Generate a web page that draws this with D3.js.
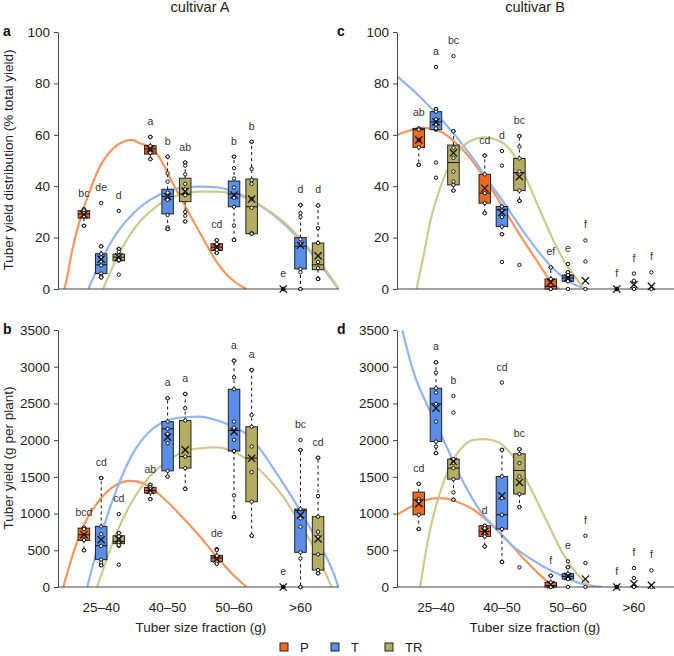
<!DOCTYPE html>
<html>
<head>
<meta charset="utf-8">
<script src="https://cdn.jsdelivr.net/npm/d3@7"></script>
<style>
  body { margin: 0; background: #fff; }
  svg { font-family: "Liberation Sans", Arial, Helvetica, sans-serif; }
</style>
</head>
<body>
<div id="chart"></div>
<script>
// categories and treatments
const categories = ['25–40', '40–50', '50–60', '>60'];
const treatments = ['P', 'T', 'TR'];
const pctTicks = [0, 20, 40, 60, 80, 100];
const gTicks = [0, 500, 1000, 1500, 2000, 2500, 3000, 3500];

// box stats per group (order P,T,TR for each size class): [lo, q1, median, q3, hi, mean]
const statsA = [
    [24.6, 27.6, 29.2, 30.5, 31, 29], [4.5, 6, 9.4, 13.7, 16.6, 11.6], [11, 11, 12.4, 13.6, 15.6, 12.5],
    [50.5, 52.5, 54.5, 55.8, 59.2, 54.5], [23.3, 29.2, 36, 38.8, 51.5, 36], [26.3, 34, 36.9, 43.1, 49.2, 38],
    [14, 15, 16.3, 17.6, 19, 16.3], [19.1, 32, 37, 42, 51.5, 36.6], [21.5, 21.5, 32, 42.8, 57.3, 35],
    [null, null, null, null, null, 0], [0, 7.8, 16.6, 20, 32.7, 17], [3.9, 7.5, 9.4, 17.9, 32.5, 12.9]
];
const ptsA = [
    [31, 30.5, 29.5, 28.3, 24.6], [33.4, 16.6, 13.7, 12.3, 10.7, 9.2, 6, 5, 4.5], [30.4, 15.6, 14.5, 13, 12, 11.3, 5.6],
    [59.2, 55.6, 54.5, 53, 50.5], [51.5, 45, 41.8, 37.5, 36, 34.7, 28.8, 24, 23.3], [49.2, 48, 44.6, 40.9, 38.8, 36.5, 30, 28.5, 26.3],
    [19, 17.5, 16, 15.2, 14], [51.5, 47, 43, 39.5, 35.5, 32, 24.7, 19.1], [57.3, 46.7, 42.4, 40.9, 35, 31.6, 21.7, 21.5],
    [0], [32.7, 29.5, 28, 19.4, 17.5, 7.8, 6.5, 0], [32.5, 23.7, 17.9, 10.5, 8.1, 4, 3.9]
];
const lettersA = ['bc', 'de', 'd', 'a', 'b', 'ab', 'cd', 'b', 'b', 'e', 'd', 'd'];

const statsB = [
    [499, 635, 712, 802, 802, 712], [295, 372, 562, 825, 1483, 644], [560, 590, 621, 698, 735, 650],
    [1197, 1279, 1315, 1356, 1392, 1315], [1505, 1582, 2154, 2253, 2571, 2040], [1337, 1619, 1777, 2267, 2630, 1868],
    [317, 349, 394, 431, 517, 381], [952, 1852, 2131, 2693, 3083, 2116], [699, 1162, 1755, 2183, 2956, 1753],
    [null, null, null, null, null, 0], [0, 472, 1040, 1062, 1866, 980], [186, 231, 445, 958, 1761, 654]
];
const ptsB = [
    [810, 790, 700, 640, 499], [1483, 825, 720, 560, 372, 330, 295], [993, 735, 690, 640, 600, 570, 304],
    [1392, 1360, 1330, 1290, 1197], [2571, 2253, 2154, 2086, 1959, 1582, 1505], [2630, 2435, 2267, 1777, 1619, 1337],
    [504, 426, 380, 345, 317], [3083, 2856, 2693, 2253, 2170, 2004, 1852, 1247, 952], [2956, 2343, 2183, 1913, 1564, 1162, 699],
    [0], [2002, 1866, 1062, 935, 821, 472, 390, 0], [1761, 1239, 958, 753, 685, 445, 231, 186]
];
const lettersB = ['bcd', 'cd', 'cd', 'ab', 'a', 'a', 'de', 'a', 'a', 'e', 'bc', 'cd'];

const statsC = [
    [48.3, 55.1, 62, 62.5, 62.5, 58], [62, 62, 65, 69, 70, 65], [38.3, 40.5, 49.2, 56, 61.4, 53],
    [29.5, 33.4, 37.3, 44.6, 51.9, 39.2], [21.3, 24.3, 30.8, 32.1, 32.1, 29.8], [34.3, 38.3, 45.3, 50.8, 59.5, 43.7],
    [0, 0, 1, 3.9, 8.4, 2.6], [3, 3, 4.3, 5.4, 6.5, 4.3], [null, null, null, null, null, 3.2],
    [null, null, null, null, null, 0], [null, null, null, null, null, 1.7], [null, null, null, null, null, 1]
];
const ptsC = [
    [62.5, 62, 58, 55.1, 48.3], [86.4, 70, 69, 66, 64, 62.5, 49.2, 43.3], [90.6, 61.4, 55, 51, 45.7, 41.8, 40.5, 38.3],
    [51.9, 44.6, 37.3, 33.4, 29.5], [53.7, 48, 32.1, 30.5, 28, 24.3, 21.3, 10.5], [59.5, 55.4, 50.8, 45.7, 38.3, 34.3, 9.4],
    [8.4, 3.9, 0], [9.7, 6.5, 5.4, 4.3, 3, 0], [18.9, 10.7, 0],
    [0], [6, 3.2, 0], [6.5, 0]
];
const lettersC = ['ab', 'a', 'bc', 'cd', 'd', 'bc', 'ef', 'e', 'f', 'f', 'f', 'f'];

const statsD = [
    [789, 984, 1188, 1292, 1406, 1134], [1823, 1981, 2494, 2707, 3060, 2435], [1188, 1469, 1619, 1741, 1741, 1709],
    [553, 689, 757, 834, 834, 757], [340, 789, 984, 1505, 1868, 1242], [1088, 1265, 1587, 1814, 1877, 1424],
    [0, 0, 20, 63, 154, 32], [109, 109, 145, 181, 268, 145], [null, null, null, null, null, 109],
    [null, null, null, null, null, 0], [null, null, null, null, null, 45], [null, null, null, null, null, 23]
];
const ptsD = [
    [1406, 1197, 1165, 984, 789], [3060, 2920, 2707, 2648, 2494, 2253, 1981, 1913, 1823], [2602, 2376, 1741, 1690, 1619, 1469, 1288, 1188],
    [834, 800, 740, 689, 553], [2784, 1868, 1505, 1210, 984, 789, 340], [1877, 1814, 1687, 1505, 1265, 1088, 268],
    [154, 63, 0], [349, 268, 181, 150, 109, 0], [698, 326, 0],
    [0], [258, 122, 0], [227, 0]
];
const lettersD = ['cd', 'a', 'b', 'd', 'cd', 'bc', 'f', 'e', 'f', 'f', 'f', 'f'];

// fitted curves as [size class position, value]
const fitAP = [[0.445, 0], [0.48, 3.6], [0.555, 14], [0.68, 26.9], [0.78, 34.7], [0.98, 47.6], [1.18, 54.7], [1.33, 57.3], [1.46, 58], [1.6, 56.5], [1.76, 55], [1.9, 50.2], [2.04, 43], [2.25, 33], [2.49, 21.7], [2.74, 10.5], [2.99, 3.2], [3.19, 0]];
const fitAT = [[0.806, 0], [0.983, 10.1], [1.234, 21.7], [1.484, 29.5], [1.735, 34.7], [1.987, 37.9], [2.237, 39.5], [2.489, 39.8], [2.74, 39.6], [2.99, 37.9], [3.24, 34.9], [3.49, 30.8], [3.74, 25.6], [3.99, 19.1], [4.246, 11.4], [4.57, 0]];
const fitATR = [[1.03, 0], [1.234, 12], [1.484, 23], [1.735, 30.1], [1.987, 34.7], [2.237, 37], [2.489, 37.9], [2.74, 37.9], [2.99, 37], [3.24, 34.7], [3.49, 31], [3.74, 26.3], [3.99, 19.8], [4.246, 12], [4.49, 3.5], [4.58, 0]];

const fitBP = [[0.43, 0], [0.58, 462], [0.73, 825], [0.98, 1188], [1.23, 1392], [1.43, 1446], [1.63, 1415], [1.88, 1256], [2.14, 1029], [2.49, 685], [2.74, 413], [2.99, 163], [3.19, 0]];
const fitBT = [[0.79, 0], [0.98, 644], [1.23, 1324], [1.48, 1823], [1.73, 2117], [1.99, 2267], [2.24, 2312], [2.49, 2320], [2.74, 2270], [2.99, 2183], [3.24, 2047], [3.49, 1753], [3.74, 1412], [3.99, 1049], [4.245, 640], [4.5, 186], [4.57, 0]];
const fitBTR = [[0.94, 0], [1.23, 734], [1.48, 1188], [1.73, 1505], [1.99, 1709], [2.24, 1845], [2.49, 1889], [2.74, 1902], [2.99, 1843], [3.24, 1707], [3.49, 1503], [3.74, 1230], [3.99, 867], [4.245, 459], [4.4, 140], [4.47, 0]];

const fitCP = [[0.41, 59.9], [0.733, 62.5], [0.81, 62.7], [1.06, 61.4], [1.31, 56.7], [1.57, 49.2], [1.82, 39.8], [2.07, 29.5], [2.32, 19.1], [2.57, 9.4], [2.72, 3.6], [2.87, 0]];
const fitCT = [[0.41, 82.8], [0.733, 75.4], [1.0, 68.3], [1.31, 59.2], [1.57, 50.5], [1.82, 41.1], [2.07, 32.1], [2.32, 22.6], [2.57, 14], [2.82, 6.9], [3.07, 2.1], [3.3, 0]];
const fitCTR = [[0.706, 0], [0.82, 14], [0.92, 26.9], [1.07, 39.8], [1.22, 48.9], [1.43, 56], [1.63, 58.6], [1.73, 59], [1.93, 58], [2.13, 54], [2.33, 45], [2.53, 33.4], [2.73, 21.7], [2.93, 11.4], [3.14, 3.6], [3.24, 0]];

const fitDP = [[0.41, 984], [0.65, 1106], [0.9, 1197], [1.06, 1210], [1.31, 1165], [1.57, 1052], [1.82, 870], [2.07, 644], [2.32, 394], [2.57, 168], [2.78, 0]];
const fitDT = [[0.41, 3790], [0.49, 3500], [0.65, 2956], [0.9, 2412], [1.16, 1913], [1.41, 1437], [1.66, 1052], [1.92, 780], [2.17, 553], [2.42, 394], [2.67, 258], [2.92, 145], [3.17, 54], [3.42, 9], [3.52, 0]];
const fitDTR = [[0.76, 0], [0.9, 734], [1.06, 1279], [1.21, 1641], [1.41, 1913], [1.57, 2004], [1.72, 2013], [1.92, 1981], [2.17, 1777], [2.42, 1369], [2.67, 916], [2.92, 462], [3.17, 145], [3.37, 0]];

// styling
const boxFill = { P: '#EE6A21', T: '#5B8EE9', TR: '#B4AD62' };
const lineColor = { P: '#F5965E', T: '#92B6F1', TR: '#CFC98F' };
const offsets = [-0.26, 0, 0.265];
const axisColor = '#444';

const svg = d3.select('#chart').append('svg')
    .attr('width', 674)
    .attr('height', 656);

const panels = [
    { id: 'a', stats: statsA, pts: ptsA, letters: lettersA, fits: [fitAP, fitAT, fitATR],
      xd: [0.35, 4.58], xr: [58, 339], yMax: 100, yr: [289, 32], ticks: pctTicks, bottom: false, lx: 3 },
    { id: 'b', stats: statsB, pts: ptsB, letters: lettersB, fits: [fitBP, fitBT, fitBTR],
      xd: [0.35, 4.58], xr: [58, 339], yMax: 3500, yr: [587, 330], ticks: gTicks, bottom: true, lx: 3 },
    { id: 'c', stats: statsC, pts: ptsC, letters: lettersC, fits: [fitCP, fitCT, fitCTR],
      xd: [0.41, 4.85], xr: [397, 690], yMax: 100, yr: [289, 32], ticks: pctTicks, bottom: false, lx: 337 },
    { id: 'd', stats: statsD, pts: ptsD, letters: lettersD, fits: [fitDP, fitDT, fitDTR],
      xd: [0.41, 4.85], xr: [397, 690], yMax: 3500, yr: [587, 330], ticks: gTicks, bottom: true, lx: 337 }
];

panels.forEach(drawPanel);

function drawPanel(p) {
    const x = d3.scaleLinear().domain(p.xd).range(p.xr);
    const y = d3.scaleLinear().domain([0, p.yMax]).range(p.yr);
    const g = svg.append('g').attr('class', 'panel-' + p.id);

    // clip for the fitted curves
    const clipId = 'clip-' + p.id;
    svg.append('clipPath').attr('id', clipId)
        .append('rect')
        .attr('x', p.xr[0])
        .attr('y', p.yr[1])
        .attr('width', p.xr[1] - p.xr[0])
        .attr('height', p.yr[0] - p.yr[1]);

    const line = d3.line()
        .x(d => x(d[0]))
        .y(d => y(d[1]))
        .curve(d3.curveMonotoneX);

    p.fits.forEach((f, i) => {
        g.append('path')
            .attr('d', line(f))
            .attr('fill', 'none')
            .attr('stroke', lineColor[treatments[i]])
            .attr('stroke-width', 2.2)
            .attr('clip-path', `url(#${clipId})`);
    });

    // y axis
    const yAxis = g.append('g')
        .attr('transform', `translate(${p.xr[0]},0)`)
        .call(d3.axisLeft(y).tickValues(p.ticks).tickFormat(d3.format('d'))
            .tickSize(4).tickSizeOuter(0).tickPadding(4));
    yAxis.select('.domain').attr('stroke', axisColor);
    yAxis.selectAll('.tick line').attr('stroke', axisColor);
    yAxis.selectAll('.tick text')
        .attr('font-size', 13.5)
        .attr('fill', '#222')
        .attr('font-family', '"Liberation Sans", Arial, sans-serif');

    // x axis baseline
    g.append('line')
        .attr('x1', p.xr[0]).attr('x2', p.xr[1])
        .attr('y1', y(0)).attr('y2', y(0))
        .attr('stroke', axisColor)
        .attr('stroke-width', 1);

    if (p.bottom) {
        g.selectAll('.xlab')
            .data(categories)
            .enter()
            .append('text')
            .attr('class', 'xlab')
            .attr('x', (d, i) => x(i + 1))
            .attr('y', 612)
            .attr('text-anchor', 'middle')
            .attr('font-size', 13.5)
            .attr('fill', '#222')
            .text(d => d);

        g.append('text')
            .attr('x', (x(1) + x(4)) / 2)
            .attr('y', 632)
            .attr('text-anchor', 'middle')
            .attr('font-size', 13.5)
            .attr('fill', '#222')
            .text('Tuber size fraction (g)');
    }

    // panel letter
    g.append('text')
        .attr('x', p.lx)
        .attr('y', p.yr[1] + 4)
        .attr('font-size', 14)
        .attr('font-weight', 'bold')
        .attr('fill', '#111')
        .text(p.id);

    const bw = 11.5;
    p.stats.forEach((s, k) => {
        const c = Math.floor(k / 3);
        const t = k % 3;
        const cx = x(c + 1 + offsets[t]);
        const [lo, q1, med, q3, hi, mean] = s;
        const pts = p.pts[k];
        const grp = g.append('g');

        if (lo !== null) {
            // whiskers
            if (hi > q3) {
                grp.append('line')
                    .attr('x1', cx).attr('x2', cx)
                    .attr('y1', y(q3)).attr('y2', y(hi))
                    .attr('stroke', '#111').attr('stroke-dasharray', '3,3');
            }
            if (lo < q1) {
                grp.append('line')
                    .attr('x1', cx).attr('x2', cx)
                    .attr('y1', y(q1)).attr('y2', y(lo))
                    .attr('stroke', '#111').attr('stroke-dasharray', '3,3');
            }
            grp.append('rect')
                .attr('x', cx - bw / 2)
                .attr('y', y(q3))
                .attr('width', bw)
                .attr('height', Math.max(1, y(q1) - y(q3)))
                .attr('fill', boxFill[treatments[t]])
                .attr('stroke', '#222')
                .attr('stroke-width', 1);
            grp.append('line')
                .attr('x1', cx - bw / 2).attr('x2', cx + bw / 2)
                .attr('y1', y(med)).attr('y2', y(med))
                .attr('stroke', '#111');
            // whisker end caps
            [lo, hi].forEach(v => {
                grp.append('line')
                    .attr('x1', cx - 2.5).attr('x2', cx + 2.5)
                    .attr('y1', y(v)).attr('y2', y(v))
                    .attr('stroke', '#111');
                grp.append('circle')
                    .attr('cx', cx).attr('cy', y(v))
                    .attr('r', 2)
                    .attr('fill', '#111');
            });
        }

        // individual observations
        grp.selectAll('.pt')
            .data(pts)
            .enter()
            .append('circle')
            .attr('class', 'pt')
            .attr('cx', cx)
            .attr('cy', d => y(d))
            .attr('r', 1.7)
            .attr('fill', '#fff')
            .attr('stroke', '#111')
            .attr('stroke-width', 1);

        if (lo === null && d3.max(pts) === 0) {
            grp.append('circle')
                .attr('cx', cx).attr('cy', y(0))
                .attr('r', 2.2)
                .attr('fill', '#111');
        }

        // mean marker
        const my = y(mean);
        const m = 3.6;
        grp.append('path')
            .attr('d', `M${cx - m},${my - m}L${cx + m},${my + m}M${cx - m},${my + m}L${cx + m},${my - m}`)
            .attr('stroke', '#111')
            .attr('stroke-width', 1.3)
            .attr('fill', 'none');

        // group letter
        const top = d3.max([hi === null ? 0 : hi, mean, d3.max(pts)]);
        grp.append('text')
            .attr('x', cx)
            .attr('y', y(top) - 12)
            .attr('text-anchor', 'middle')
            .attr('font-size', 10.5)
            .attr('fill', '#333')
            .text(p.letters[k]);
    });
}

// titles
svg.append('text')
    .attr('x', 200).attr('y', 12)
    .attr('text-anchor', 'middle')
    .attr('font-size', 14.5)
    .attr('fill', '#222')
    .text('cultivar A');
svg.append('text')
    .attr('x', 535).attr('y', 12)
    .attr('text-anchor', 'middle')
    .attr('font-size', 14.5)
    .attr('fill', '#222')
    .text('cultivar B');

// y axis titles
svg.append('text')
    .attr('transform', 'translate(13,160) rotate(-90)')
    .attr('text-anchor', 'middle')
    .attr('font-size', 13.5)
    .attr('fill', '#222')
    .text('Tuber yield distribution (% total yield)');
svg.append('text')
    .attr('transform', 'translate(13,458) rotate(-90)')
    .attr('text-anchor', 'middle')
    .attr('font-size', 13.5)
    .attr('fill', '#222')
    .text('Tuber yield (g per plant)');

// legend
const legendX = [280, 331, 385];
const legend = svg.append('g');
treatments.forEach((t, i) => {
    legend.append('rect')
        .attr('x', legendX[i]).attr('y', 643)
        .attr('width', 8).attr('height', 8)
        .attr('fill', boxFill[t])
        .attr('stroke', '#222');
    legend.append('text')
        .attr('x', legendX[i] + 20).attr('y', 652)
        .attr('font-size', 13)
        .attr('fill', '#222')
        .text(t);
});
</script>
</body>
</html>
